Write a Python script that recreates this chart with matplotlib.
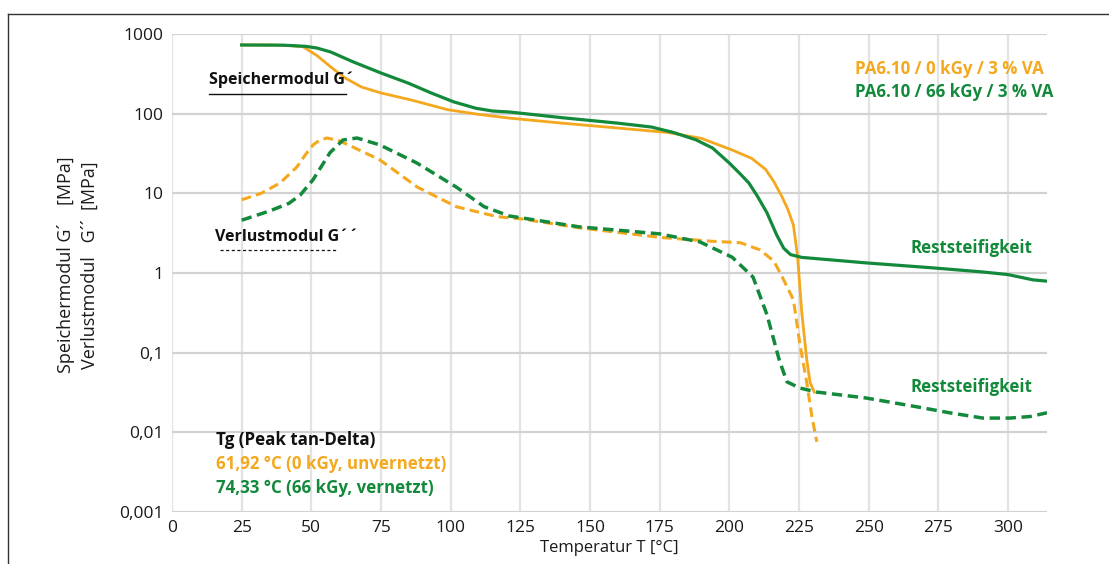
import matplotlib
matplotlib.use("Agg")
import matplotlib.pyplot as plt
from matplotlib.lines import Line2D
from matplotlib.ticker import FixedLocator, FixedFormatter

plt.rcParams['font.family'] = ['Open Sans', 'DejaVu Sans']

ORANGE = "#F4A81D"
GREEN = "#13893B"

# G' 0 kGy (orange, solid)
t_o_sp = [25, 35, 42, 47, 52, 57, 62, 68, 75, 86, 99, 110, 121, 140, 160, 178, 190, 201, 208, 213,
          216, 219, 221, 223, 224.5, 226, 227.8, 229, 230.5]
v_o_sp = [728, 728, 716, 692, 537, 385, 282, 216, 182, 148, 112, 98, 88, 76, 66, 58, 49, 35, 27.5, 20,
          14, 8.9, 6.3, 4.0, 1.6, 0.32, 0.081, 0.042, 0.032]

# G' 66 kGy (green, solid)
t_g_sp = [25, 40, 48, 52, 57, 65, 75, 85, 93, 101, 109, 115, 121, 140, 160, 172, 180, 188, 194, 200,
          204, 207, 210, 213.5, 217, 219.5, 222, 226, 249, 273, 291, 300, 309, 314]
v_g_sp = [728, 724, 700, 667, 594, 447, 324, 240, 182, 141, 117, 108, 105, 89, 76, 68, 58, 47, 37, 24,
          17.4, 13.5, 9.3, 5.7, 3.0, 2.05, 1.7, 1.57, 1.34, 1.16, 1.03, 0.955, 0.82, 0.79]

# G'' 0 kGy (orange, dashed)
t_o_vl = [25, 32, 38.8, 44.8, 48, 50.6, 53, 55.6, 60, 65, 74.6, 88, 102, 116.6, 125, 146, 175, 194,
          204, 211, 216, 219, 223, 225.3, 227.8, 229.6, 231.4]
v_o_vl = [8.3, 10, 13.5, 21.4, 31, 40.5, 46.5, 49.5, 45.7, 38, 26.3, 12, 6.8, 5.1, 4.8, 3.7, 2.8, 2.5,
          2.4, 1.95, 1.41, 0.89, 0.46, 0.13, 0.042, 0.016, 0.0076]

# G'' 66 kGy (green, dashed)
t_g_vl = [25, 35, 42, 46, 50.6, 56.7, 61.4, 66.4, 74.6, 87.9, 102, 112, 121, 146, 175, 189.5, 201,
          208.5, 213.5, 218, 220.7, 225.3, 231.4, 249, 267, 279, 291, 300.7, 308, 314]
v_g_vl = [4.6, 6.0, 7.5, 9.5, 14.8, 32.4, 46.8, 49.5, 40.5, 24, 12, 6.8, 5.2, 3.8, 3.1, 2.45, 1.58,
          0.89, 0.30, 0.079, 0.043, 0.036, 0.032, 0.027, 0.021, 0.0176, 0.0151, 0.0151, 0.0158, 0.0176]

x_ticks = [0, 25, 50, 75, 100, 125, 150, 175, 200, 225, 250, 275, 300]
y_ticks = [0.001, 0.01, 0.1, 1, 10, 100, 1000]
y_labels = ["0,001", "0,01", "0,1", "1", "10", "100", "1000"]

W, H = 1109, 564
fig = plt.figure(figsize=(W / 100, H / 100), dpi=100)
ax = fig.add_axes([172 / W, 1 - 512 / H, (1047 - 172) / W, (512 - 34) / H])

ax.set_yscale("log")
ax.set_xlim(0, 314)
ax.set_ylim(0.001, 1000)

for xv in x_ticks:
    ax.axvline(xv, color="#E3E3E3", lw=1.6, zorder=0)
for yv in y_ticks:
    ax.axhline(yv, color="#D2D2D2", lw=1.6, zorder=0)

for s in ax.spines.values():
    s.set_visible(False)

ax.xaxis.set_major_locator(FixedLocator(x_ticks))
ax.set_xticklabels([str(v) for v in x_ticks])
ax.yaxis.set_major_locator(FixedLocator(y_ticks))
ax.yaxis.set_major_formatter(FixedFormatter(y_labels))
ax.yaxis.set_minor_locator(FixedLocator([]))
ax.tick_params(axis="both", length=0, labelsize=12.5, colors="#1a1a1a")
ax.tick_params(axis="x", pad=6)
ax.tick_params(axis="y", pad=6)

ax.plot(t_o_sp, v_o_sp, color=ORANGE, lw=2.0, solid_joinstyle="round", zorder=3)
ax.plot(t_g_sp, v_g_sp, color=GREEN, lw=2.3, solid_joinstyle="round", zorder=4)
ax.plot(t_o_vl, v_o_vl, color=ORANGE, lw=2.2, dashes=(3.2, 1.7), zorder=3)
ax.plot(t_g_vl, v_g_vl, color=GREEN, lw=2.5, dashes=(3.0, 1.6), zorder=4)

ax.set_xlabel("Temperatur T [°C]", fontsize=12, color="#1a1a1a", labelpad=3)


def fx(px):
    return px / W


def fy(py):
    return 1 - py / H


fig.text(fx(209), fy(80), "Speichermodul G´", color="#111111", va="center", ha="left",
         fontsize=11.5, fontweight="bold")
fig.add_artist(Line2D([fx(209), fx(346)], [fy(94), fy(94)], color="#111111", lw=1.0))
fig.text(fx(215), fy(237), "Verlustmodul G´´", color="#111111", va="center", ha="left",
         fontsize=11.5, fontweight="bold")
fig.add_artist(Line2D([fx(220), fx(338)], [fy(250), fy(250)], color="#111111", lw=0.9,
                      dashes=(2.5, 2.0)))

big = dict(fontsize=12.2, fontweight="bold")
fig.text(fx(855), fy(69), "PA6.10 / 0 kGy / 3 % VA", color=ORANGE, va="center", ha="left", **big)
fig.text(fx(855), fy(92), "PA6.10 / 66 kGy / 3 % VA", color=GREEN, va="center", ha="left", **big)
fig.text(fx(1032), fy(248), "Reststeifigkeit", color=GREEN, va="center", ha="right", **big)
fig.text(fx(1032), fy(387), "Reststeifigkeit", color=GREEN, va="center", ha="right", **big)

fig.text(fx(216), fy(440), "Tg (Peak tan-Delta)", color="#111111", va="center", ha="left", **big)
fig.text(fx(216), fy(464), "61,92 °C (0 kGy, unvernetzt)", color=ORANGE, va="center", ha="left", **big)
fig.text(fx(216), fy(488), "74,33 °C (66 kGy, vernetzt)", color=GREEN, va="center", ha="left", **big)

fig.text(fx(66), fy(265), "Speichermodul G´    [MPa]", rotation=90, va="center", ha="center",
         fontsize=13, color="#1a1a1a")
fig.text(fx(90), fy(265), "Verlustmodul   G´´  [MPa]", rotation=90, va="center", ha="center",
         fontsize=13, color="#1a1a1a")

# outer frame (top and left)
fig.add_artist(Line2D([fx(8), fx(1109)], [fy(14), fy(14)], color="#333333", lw=1.0))
fig.add_artist(Line2D([fx(8), fx(8)], [fy(14), fy(564)], color="#333333", lw=1.0))

fig.savefig("out.png", dpi=100)
